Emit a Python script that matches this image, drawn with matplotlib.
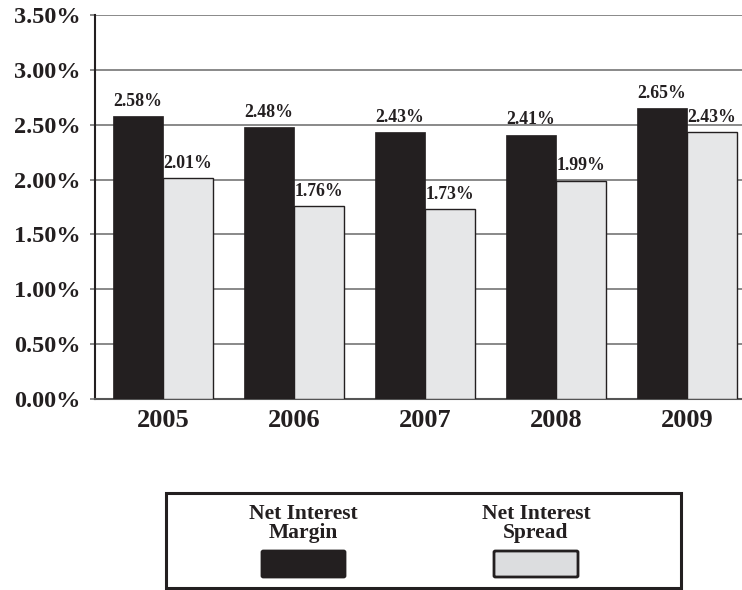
import matplotlib
matplotlib.use("Agg")
import matplotlib.pyplot as plt
import matplotlib.patches as mpatches
from matplotlib.ticker import FixedLocator
import numpy as np

plt.rcParams['font.family'] = ['Liberation Serif', 'DejaVu Serif']
plt.rcParams['font.weight'] = 'bold'

years = ["2005", "2006", "2007", "2008", "2009"]
series_names = ["Net Interest\nMargin", "Net Interest\nSpread"]
margin = [2.58, 2.48, 2.43, 2.41, 2.65]
spread = [2.01, 1.76, 1.73, 1.99, 2.43]
y_ticks = [0.0, 0.5, 1.0, 1.5, 2.0, 2.5, 3.0, 3.5]

TEXT = "#231f20"
DARK = "#231f20"
LIGHT = "#e6e7e8"
LEGEND_LIGHT = "#dcdddf"
GRID = "#808080"

W, H = 742, 590
fig = plt.figure(figsize=(W / 100, H / 100), dpi=100)
ax = fig.add_axes([95 / W, 1 - 399 / H, 1 - 95 / W, (399 - 15) / H])

x = np.arange(len(years))
bw = 0.382
b1 = ax.bar(x - bw / 2, margin, bw, color=DARK, edgecolor=DARK, linewidth=0.5, zorder=3)
b2 = ax.bar(x + bw / 2, spread, bw, color=LIGHT, edgecolor=TEXT, linewidth=1.0, zorder=3)

for bars, vals in ((b1, margin), (b2, spread)):
    for rect, v in zip(bars, vals):
        ax.annotate(f"{v:.2f}%", (rect.get_x() + rect.get_width() / 2, v),
                    xytext=(0, 4.5), textcoords="offset points",
                    ha="center", va="bottom", fontsize=12.8, fontweight="bold",
                    color=TEXT, zorder=4)

ax.set_xlim(-0.519, 4.42)
ax.set_ylim(0, 3.5)
ax.yaxis.set_major_locator(FixedLocator(y_ticks))
ax.set_yticklabels([f"{t:.2f}%" for t in y_ticks], fontsize=17.5, fontweight="bold", color=TEXT)
ax.set_xticks(x)
ax.set_xticklabels(years, fontsize=19, fontweight="bold", color=TEXT)
ax.tick_params(axis="x", length=0, pad=7)
ax.tick_params(axis="y", length=3.5, width=1.3, color=GRID, pad=7)

ax.grid(axis="y", color=GRID, linewidth=1.3, zorder=1)
ax.set_axisbelow(True)
for side in ("top", "right"):
    ax.spines[side].set_visible(False)
ax.spines["left"].set_color(TEXT)
ax.spines["left"].set_linewidth(1.5)
ax.spines["bottom"].set_color("#555555")
ax.spines["bottom"].set_linewidth(1.5)

# Legend panel below the chart
def fx(px):
    return px / W

def fy(py):
    return 1 - py / H

frame = mpatches.Rectangle((fx(166), fy(588)), fx(681) - fx(166), fy(493) - fy(588),
                           transform=fig.transFigure, facecolor="white",
                           edgecolor=TEXT, linewidth=2.2)
fig.patches.append(frame)

legend_items = [(series_names[0], DARK, 262, 345), (series_names[1], LEGEND_LIGHT, 494, 578)]
for name, col, x0, x1 in legend_items:
    cx = fx((x0 + x1) / 2)
    fig.text(cx, fy(504), name, ha="center", va="top", fontsize=15.5,
             fontweight="bold", color=TEXT, linespacing=0.95)
    sw = mpatches.FancyBboxPatch((fx(x0), fy(577)), fx(x1) - fx(x0), fy(551) - fy(577),
                                 boxstyle="round,pad=0,rounding_size=0.002",
                                 transform=fig.transFigure, facecolor=col,
                                 edgecolor=TEXT, linewidth=2.0)
    fig.patches.append(sw)

fig.savefig("out.png", dpi=100)
